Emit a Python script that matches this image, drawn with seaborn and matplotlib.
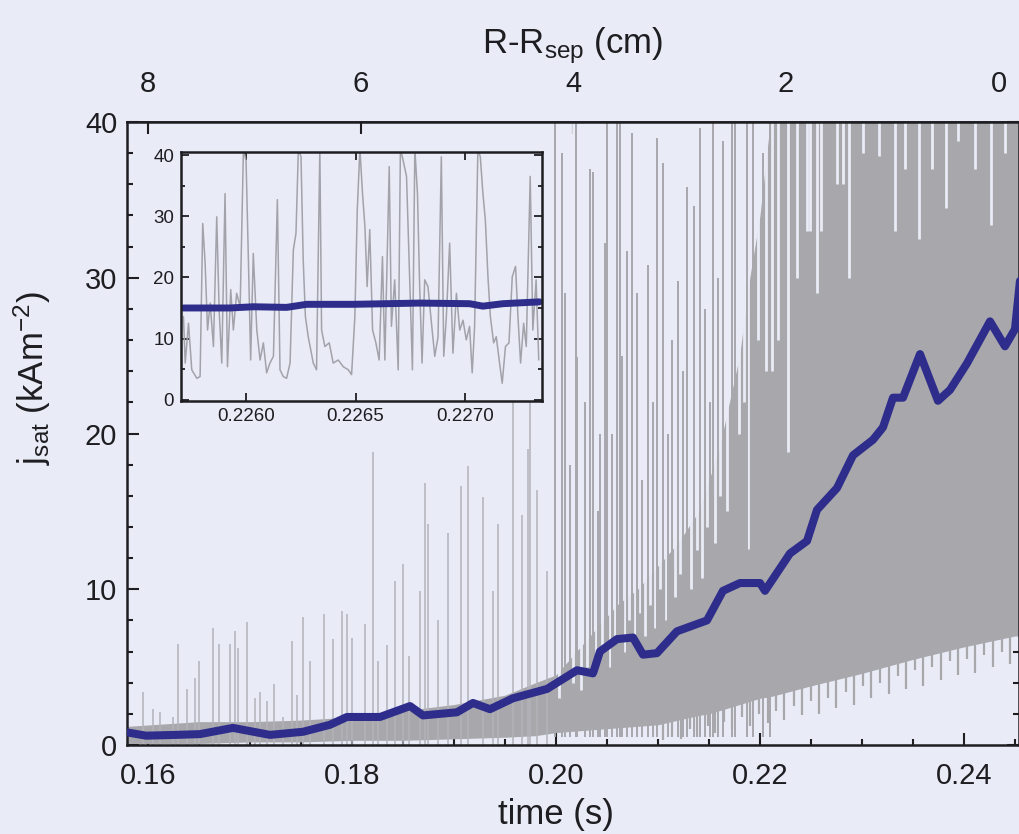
import matplotlib
matplotlib.use("Agg")
import matplotlib.pyplot as plt
from matplotlib.ticker import MultipleLocator, FormatStrFormatter
import pandas as pd
import seaborn as sns

# smoothed j_sat (blue), time in ms, kA/m^2
smooth_ms = [158.04, 159.80, 162.75, 165.10, 168.33, 171.96, 175.20, 177.84, 179.51,
             182.75, 185.69, 186.96, 190.29, 191.86, 193.53, 195.78, 199.12, 202.06,
             203.63, 204.31, 205.98, 207.55, 208.53, 209.90, 211.86, 214.80, 216.37,
             218.04, 220.00, 220.49, 222.94, 224.61, 225.59, 227.55, 229.12, 231.08,
             232.06, 233.04, 234.02, 235.69, 237.45, 238.63, 240.29, 242.55, 244.02,
             245.00, 245.49]
smooth_j = [0.8, 0.6, 0.65, 0.7, 1.1, 0.65, 0.85, 1.3, 1.8,
            1.8, 2.5, 1.9, 2.1, 2.7, 2.3, 3.0, 3.6, 4.8,
            4.6, 6.0, 6.8, 6.9, 5.8, 5.9, 7.3, 8.0, 9.9,
            10.4, 10.4, 9.9, 12.3, 13.1, 15.1, 16.5, 18.6, 19.6,
            20.4, 22.3, 22.3, 25.1, 22.1, 22.8, 24.5, 27.2, 25.6,
            26.7, 29.8]

# raw probe signal (grey): envelope of the dense part
body_ms = [158, 165, 170, 175, 180, 185, 190, 195, 198,
           200, 202, 204, 206, 208, 210, 212, 214,
           215, 216, 217, 218, 219, 220, 221,
           225, 230, 235, 240, 245, 245.5]
body_lo = [0.1, 0.1, 0.2, 0.2, 0.3, 0.3, 0.4, 0.5, 0.6,
           0.8, 0.9, 1.0, 1.1, 1.2, 1.3, 1.6, 1.9,
           2.0, 2.2, 2.4, 2.6, 2.8, 3.0, 3.1,
           3.8, 4.6, 5.5, 6.3, 7.0, 7.0]
body_hi = [1.2, 1.5, 1.5, 1.6, 1.8, 2.2, 2.6, 3.2, 4.0,
           4.5, 6.0, 7.5, 9.0, 10.0, 11.5, 13.0, 15.0,
           17.0, 19.0, 22.0, 25.0, 30.0, 34.0, 40.0,
           40.0, 40.0, 40.0, 40.0, 40.0, 40.0]

# single bursts standing out of the envelope
burst_ms = [159.51, 160.49, 161.18, 162.45, 162.94, 163.82, 164.61, 165.00, 166.37, 166.96,
            168.04, 168.53, 168.82, 169.71, 170.49, 170.98, 171.67, 172.35, 173.24, 174.12,
            174.61, 175.20, 175.88, 177.25, 178.14, 179.02, 179.51, 180.00, 181.27, 182.06,
            182.55, 183.43, 184.22, 185.00, 185.59, 186.67, 187.16, 187.45, 188.43, 189.41,
            190.69, 191.37, 192.84, 193.82, 194.31, 195.78, 196.67, 197.25, 197.45, 198.14,
            199.12, 199.90, 200.59, 200.88, 201.37, 201.96, 202.06, 202.84, 203.33, 203.63,
            204.12, 204.31, 204.80, 205.00, 205.49, 205.98, 206.27, 206.47, 206.96, 207.45,
            207.94, 208.43, 209.02, 209.51, 209.90, 210.49, 210.98, 211.37, 211.96, 212.45,
            212.84, 213.53, 214.12, 214.61, 215.10, 215.39, 215.88, 216.37, 217.25, 217.55,
            218.73, 219.31, 220.29, 220.98]
burst_top = [3.4, 2.3, 2.1, 1.8, 6.5, 3.6, 4.3, 5.4, 7.5, 6.5,
             6.5, 7.3, 6.2, 7.9, 3.0, 3.4, 2.8, 3.9, 1.8, 6.7,
             3.2, 8.2, 5.4, 8.4, 6.8, 8.6, 8.4, 6.9, 7.8, 18.8,
             5.4, 6.4, 10.5, 11.6, 5.7, 9.9, 16.8, 14.2, 8.0, 13.6,
             16.6, 17.9, 15.9, 9.9, 14.2, 30.0, 14.8, 19.0, 30.0, 16.4,
             11.2, 40.0, 38.0, 29.0, 18.0, 40.0, 24.9, 22.0, 37.0, 36.8,
             15.0, 20.0, 32.2, 40.0, 20.0, 40.0, 40.0, 25.0, 31.7, 39.3,
             29.0, 17.0, 30.8, 22.0, 39.0, 37.4, 20.0, 26.0, 29.8, 24.0,
             35.8, 34.6, 39.6, 28.0, 22.0, 40.0, 30.0, 38.8, 40.0, 40.0,
             40.0, 40.0, 38.0, 40.0]

# downward excursions under the dense part
dip_ms = [210.5, 211.4, 212.3, 213.1, 213.8, 214.9, 215.6, 216.5, 217.3, 218.2,
          219.0, 219.9, 220.8, 221.6, 222.4, 223.3, 224.1, 225.0, 225.8, 226.7,
          227.5, 228.4, 229.2, 230.1, 230.9, 231.8, 232.6, 233.5, 234.3, 235.2,
          236.0, 236.9, 237.7, 238.6, 239.4, 240.3, 241.1, 242.0, 242.8, 243.7, 244.5]
dip_bottom = [0.3, 0.6, 0.4, 1.0, 0.5, 1.2, 0.8, 1.5, 1.0, 1.8,
              1.2, 2.0, 1.4, 2.2, 1.6, 2.5, 1.9, 2.8, 2.0, 3.0,
              2.4, 3.4, 2.6, 3.8, 3.0, 4.0, 3.3, 4.4, 3.6, 4.8,
              3.8, 5.0, 4.2, 5.4, 4.5, 5.5, 4.6, 5.8, 5.0, 6.0, 5.2]

# gaps where the background shows between the bursts
gap_ms = [200.25, 201.65, 202.45, 203.05, 203.88, 204.55, 205.25, 205.75, 206.72, 207.20,
          207.70, 208.20, 208.72, 209.25, 209.70, 210.20, 210.75, 211.65, 212.20, 213.20,
          213.85, 214.31, 214.85, 215.62, 216.10, 216.80, 217.90, 218.40, 218.82, 219.80,
          220.60, 221.20, 221.76, 222.75, 223.63, 224.61, 224.90, 225.59, 225.98, 227.55,
          228.14, 228.73, 230.10, 231.67, 233.24, 234.22, 235.59, 236.86, 238.24, 239.41,
          241.08, 242.65, 244.02]
gap_bottom = [3.0, 4.0, 3.5, 5.0, 4.5, 6.0, 5.0, 7.0, 6.0, 8.0,
              6.5, 8.5, 7.0, 9.0, 7.5, 10.0, 8.0, 9.5, 11.0, 10.0,
              12.5, 10.7, 14.0, 13.0, 16.0, 15.0, 20.0, 22.0, 12.6, 26.0,
              24.0, 24.0, 26.0, 18.8, 30.0, 33.0, 33.0, 29.0, 33.0, 36.0,
              36.0, 30.0, 38.0, 37.8, 33.0, 37.0, 32.5, 37.0, 34.5, 38.8,
              37.0, 33.4, 38.0]

# inset: zoom on the raw trace
inset_ms = [225.714, 225.722, 225.737, 225.752, 225.775, 225.790, 225.802, 225.813, 225.824, 225.836,
            225.851, 225.866, 225.877, 225.889, 225.904, 225.915, 225.930, 225.942, 225.957, 225.973,
            225.988, 226.000, 226.011, 226.021, 226.033, 226.049, 226.064, 226.079, 226.094, 226.109,
            226.125, 226.143, 226.155, 226.170, 226.185, 226.201, 226.216, 226.228, 226.239, 226.251,
            226.261, 226.271, 226.284, 226.307, 226.322, 226.337, 226.345, 226.360, 226.380, 226.398,
            226.421, 226.444, 226.467, 226.482, 226.497, 226.508, 226.520, 226.532, 226.543, 226.553,
            226.565, 226.578, 226.593, 226.608, 226.623, 226.634, 226.654, 226.664, 226.679, 226.695,
            226.705, 226.717, 226.733, 226.748, 226.760, 226.771, 226.783, 226.793, 226.804, 226.816,
            226.831, 226.847, 226.862, 226.877, 226.892, 226.903, 226.915, 226.930, 226.945, 226.961,
            226.976, 226.991, 227.006, 227.021, 227.033, 227.044, 227.059, 227.070, 227.082, 227.093,
            227.105, 227.116, 227.131, 227.143, 227.158, 227.170, 227.185, 227.201, 227.216, 227.231,
            227.242, 227.254, 227.268, 227.280, 227.298, 227.310, 227.325, 227.337]
inset_j = [13.6, 6.0, 12.5, 4.9, 3.5, 3.8, 28.8, 22.3, 11.4, 15.8,
           8.7, 29.9, 14.7, 6.0, 33.7, 5.4, 18.0, 11.4, 17.4, 15.2,
           41.0, 39.0, 22.3, 6.5, 23.9, 11.4, 6.5, 9.3, 4.4, 6.0,
           7.1, 32.7, 4.9, 3.8, 3.5, 6.0, 24.5, 27.2, 41.0, 39.7,
           22.9, 13.6, 10.3, 6.0, 4.9, 41.0, 11.4, 8.7, 9.3, 6.0,
           6.5, 5.4, 4.9, 4.1, 13.6, 31.0, 41.0, 33.7, 28.3, 18.5,
           27.8, 11.4, 9.3, 6.5, 23.4, 6.5, 38.1, 12.0, 19.6, 4.9,
           41.0, 39.2, 36.5, 19.0, 4.9, 41.0, 33.7, 18.5, 6.0, 19.6,
           18.5, 12.5, 7.1, 10.3, 39.7, 7.1, 13.6, 25.6, 7.6, 17.4,
           11.4, 13.0, 9.8, 12.0, 4.4, 12.0, 41.0, 39.7, 33.7, 29.4,
           20.1, 13.6, 9.3, 10.3, 6.0, 2.7, 8.7, 9.3, 20.1, 21.8,
           13.6, 6.0, 12.5, 8.7, 36.5, 11.4, 19.6, 6.5]
inset_smooth_ms = [225.714, 225.927, 226.033, 226.185, 226.277, 226.490, 226.793, 227.021,
                   227.082, 227.173, 227.340]
inset_smooth_j = [15.0, 15.0, 15.2, 15.1, 15.6, 15.6, 15.8, 15.7, 15.3, 15.7, 16.0]

# probe position against time (top axis)
r_zero_ms = 243.4
ms_per_cm = 10.425

bg = "#e9ebf6"
grey = "#a7a7ac"
light_grey = "#b2b2b9"
blue = "#2e2d8c"
ink = "#1e1e22"

sns.set_theme(style="ticks", rc={"axes.facecolor": bg, "figure.facecolor": bg,
                                 "axes.edgecolor": ink, "text.color": ink,
                                 "xtick.color": ink, "ytick.color": ink,
                                 "axes.labelcolor": ink})
plt.rcParams["font.family"] = ["Liberation Sans", "DejaVu Sans"]
plt.rcParams["mathtext.fontset"] = "custom"
plt.rcParams["mathtext.rm"] = "Liberation Sans"
plt.rcParams["mathtext.default"] = "rm"

smooth = pd.DataFrame({"t": [v / 1000 for v in smooth_ms], "j": smooth_j})
body = pd.DataFrame({"t": [v / 1000 for v in body_ms], "lo": body_lo, "hi": body_hi})
bursts = pd.DataFrame({"t": [v / 1000 for v in burst_ms], "top": burst_top})
dips = pd.DataFrame({"t": [v / 1000 for v in dip_ms], "bottom": dip_bottom})
gaps = pd.DataFrame({"t": [v / 1000 for v in gap_ms], "bottom": gap_bottom})
inset_raw = pd.DataFrame({"t": [v / 1000 for v in inset_ms], "j": inset_j})
inset_smooth = pd.DataFrame({"t": [v / 1000 for v in inset_smooth_ms], "j": inset_smooth_j})

fig = plt.figure(figsize=(10.2, 8.34), dpi=100)
ax = fig.add_axes([0.1245, 0.1067, 0.8745, 0.747])

# raw signal
ax.fill_between(body.t, body.lo, body.hi, color=grey, lw=0, zorder=1)
sparse = bursts[bursts.t <= 0.1995]
dense = bursts[bursts.t > 0.1995]
ax.vlines(sparse.t, 0, sparse.top, color=light_grey, lw=1.1, zorder=1.5)
ax.vlines(dips.t, dips.bottom, 10, color=grey, lw=1.6, zorder=1.6)
ax.vlines(gaps.t, gaps.bottom, 40, color=bg, lw=2.0, zorder=2)
ax.vlines(dense.t, 0.5, dense.top, color=grey, lw=1.4, zorder=2.1)

sns.lineplot(data=smooth, x="t", y="j", ax=ax, color=blue, lw=5.8, zorder=3)

ax.set_xlim(0.157941, 0.245392)
ax.set_ylim(0, 40)
ax.xaxis.set_major_locator(MultipleLocator(0.02))
ax.xaxis.set_minor_locator(MultipleLocator(0.005))
ax.xaxis.set_major_formatter(FormatStrFormatter("%.2f"))
ax.yaxis.set_major_locator(MultipleLocator(10))
ax.yaxis.set_minor_locator(MultipleLocator(2))
ax.tick_params(which="both", direction="in", right=True, top=False, width=1.5, labelsize=21)
ax.tick_params(which="major", length=8.5)
ax.tick_params(which="minor", length=4.5)
ax.tick_params(axis="x", pad=12)
ax.tick_params(axis="y", pad=7)
for s in ax.spines.values():
    s.set_linewidth(1.8)

ax.set_xlabel("time (s)", fontsize=25)
ax.set_ylabel("j$_{sat}$ (kAm$^{-2}$)", fontsize=25)
ax.xaxis.set_label_coords(0.481, -0.085)
ax.yaxis.set_label_coords(-0.083, 0.589)

sec = ax.secondary_xaxis("top", functions=(lambda t: (r_zero_ms - t * 1000) / ms_per_cm,
                                           lambda r: (r_zero_ms - r * ms_per_cm) / 1000))
sec.set_xticks([8, 6, 4, 2, 0])
sec.tick_params(direction="in", length=8.5, width=1.5, pad=17, labelsize=21)
sec.set_xlabel("R-R$_{sep}$ (cm)", fontsize=25, labelpad=12)

# inset
ins = fig.add_axes([0.1775, 0.5192, 0.3539, 0.2986])
ins.set_facecolor(bg)
sns.lineplot(data=inset_raw, x="t", y="j", ax=ins, color="#a2a2aa", lw=1.1)
sns.lineplot(data=inset_smooth, x="t", y="j", ax=ins, color=blue, lw=5)
ins.set_xlim(0.225703, 0.227352)
ins.set_ylim(-0.2, 40.5)
ins.xaxis.set_major_locator(MultipleLocator(0.0005))
ins.xaxis.set_major_formatter(FormatStrFormatter("%.4f"))
ins.yaxis.set_major_locator(MultipleLocator(10))
ins.yaxis.set_minor_locator(MultipleLocator(5))
ins.tick_params(which="both", direction="in", top=True, right=True, width=1.3, labelsize=13.5, pad=5)
ins.tick_params(which="major", length=6)
ins.tick_params(which="minor", length=3)
ins.set_xlabel("")
ins.set_ylabel("")
for s in ins.spines.values():
    s.set_linewidth(1.8)

fig.savefig("out.png", dpi=100, facecolor=bg)
